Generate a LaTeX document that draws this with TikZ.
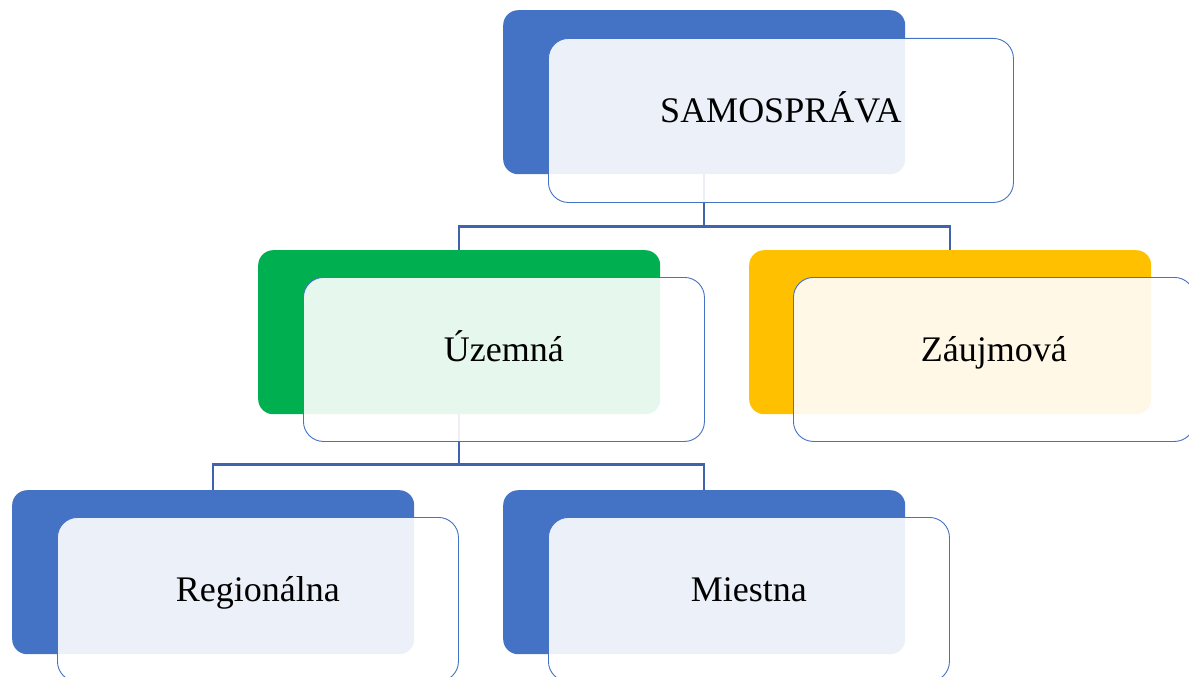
\documentclass[tikz,border=0pt]{standalone}
\usepackage{fontspec}
\setmainfont{Liberation Serif}
\definecolor{accblue}{HTML}{4472C4}
\definecolor{accgreen}{HTML}{00B050}
\definecolor{accgold}{HTML}{FFC000}
\definecolor{linkblue}{HTML}{3F63AD}
\tikzset{
  backbox/.style={rectangle, rounded corners=15pt, inner sep=0pt, draw=none,
    minimum width=402pt, minimum height=164pt, anchor=north west},
  frontbox/.style={rectangle, rounded corners=20pt, inner sep=0pt,
    draw=accblue, line width=0.9pt, fill=white, fill opacity=0.9, text opacity=1,
    minimum width=401pt, minimum height=164pt, anchor=north west,
    text height=14pt, text depth=9pt,
    font=\fontsize{36}{43}\selectfont},
  link/.style={draw=linkblue, line width=2.2pt}
}
\begin{document}
\begin{tikzpicture}[x=1pt, y=-1pt]
  \useasboundingbox (0,0) rectangle (1189,677);
  \clip (0,0) rectangle (1189,677);

  % coloured back plates
  \node[backbox, fill=accblue]  (samb) at (503,10)  {};
  \node[backbox, fill=accgreen] (uzb)  at (258,250) {};
  \node[backbox, fill=accgold]  (zab)  at (749,250) {};
  \node[backbox, fill=accblue]  (regb) at (12,490)  {};
  \node[backbox, fill=accblue]  (mieb) at (503,490) {};

  % junction points of the tree, straight below each parent
  \coordinate (bus1) at ([yshift=-52pt]samb.south);
  \coordinate (bus2) at ([yshift=-50pt]uzb.south);

  % connectors (drawn under the translucent front cards)
  \draw[link] (samb.south) -- (bus1) -| (uzb.north);
  \draw[link] (bus1) -| (zab.north);
  \draw[link] (uzb.south) -- (bus2) -| (regb.north);
  \draw[link] (bus2) -| (mieb.north);

  % translucent front cards with the labels
  \node[frontbox, minimum width=465pt] (samf) at (548,38)  {SAMOSPRÁVA};
  \node[frontbox] (uzf)  at (303,277) {Územná};
  \node[frontbox] (zaf)  at (793,277) {Záujmová};
  \node[frontbox] (regf) at (57,517)  {Regionálna};
  \node[frontbox] (mief) at (548,517) {Miestna};
\end{tikzpicture}
\end{document}
